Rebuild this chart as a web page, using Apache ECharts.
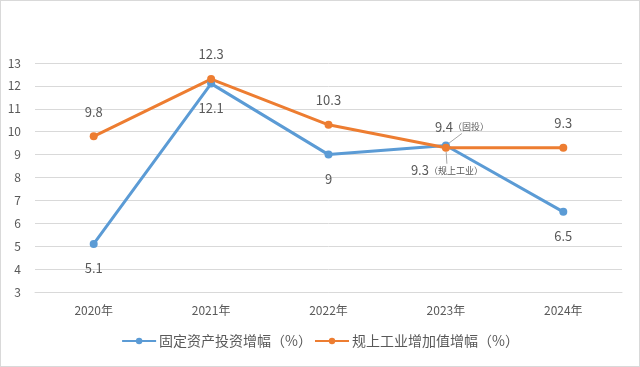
<!DOCTYPE html>
<html><head><meta charset="utf-8">
<script src="https://cdn.jsdelivr.net/npm/echarts@6/dist/echarts.min.js"></script>
<style>html,body{margin:0;padding:0;background:#fff}#c{width:640px;height:367px;box-sizing:border-box;border:1px solid #d9d9d9}</style>
</head><body><div id="c"></div>
<script>
const categories = ['2020年','2021年','2022年','2023年','2024年'];
const investName = '固定资产投资增幅（%）';
const industryName = '规上工业增加值增幅（%）';
const investValues = [5.1, 12.1, 9, 9.4, 6.5];
const industryValues = [9.8, 12.3, 10.3, 9.3, 9.3];
const investNote = '（固投）';
const industryNote = '（规上工业）';
const highlightIndex = 3;

const font = "'Noto Sans CJK SC', sans-serif";
const txt = '#595959';
const guide = { show: true, length2: 0, lineStyle: { color: '#a6a6a6', width: 1 } };

function investData() {
  return investValues.map((v, i) => i === highlightIndex ? {
    value: v,
    label: { position: 'top', formatter: '{a|{c}}{b|' + investNote + '}', rich: {a:{fontSize:13,color:txt,fontFamily:font}, b:{fontSize:9,color:txt,fontFamily:font}} },
    labelLine: guide
  } : v);
}
function industryData() {
  return industryValues.map((v, i) => i === highlightIndex ? {
    value: v,
    label: { position: 'bottom', formatter: '{a|{c}}{b|' + industryNote + '}', rich: {a:{fontSize:13,color:txt,fontFamily:font}, b:{fontSize:9,color:txt,fontFamily:font}} },
    labelLine: guide
  } : v);
}

const chart = echarts.init(document.getElementById('c'));
chart.setOption({
  animation: false,
  textStyle: { fontFamily: font },
  grid: { left: 34, right: 17, top: 62, bottom: 74 },
  legend: {
    bottom: 13, itemGap: 2, itemWidth: 34, itemHeight: 8,
    textStyle: { color: txt, fontSize: 14, fontFamily: font, padding: [0, 0, 0, -2] },
    data: [investName, industryName]
  },
  xAxis: {
    type: 'category', data: categories, boundaryGap: true,
    axisLine: { lineStyle: { color: '#d9d9d9' } },
    axisTick: { show: false },
    axisLabel: { color: txt, fontSize: 12, margin: 12 }
  },
  yAxis: {
    type: 'value', min: 3, max: 13, interval: 1,
    axisLine: { show: false }, axisTick: { show: false },
    splitLine: { lineStyle: { color: '#d9d9d9' } },
    axisLabel: { color: txt, fontSize: 12, margin: 14 }
  },
  series: [
    {
      name: investName, type: 'line', data: investData(),
      symbol: 'circle', symbolSize: 8,
      itemStyle: { color: '#5b9bd5' }, lineStyle: { width: 3, color: '#5b9bd5' },
      label: { show: true, position: 'bottom', distance: 14, color: txt, fontSize: 13 },
      labelLayout: (p) => p.dataIndex === highlightIndex ? { dx: 16, dy: 6 } : {}
    },
    {
      name: industryName, type: 'line', data: industryData(),
      symbol: 'circle', symbolSize: 8,
      itemStyle: { color: '#ed7d31' }, lineStyle: { width: 3, color: '#ed7d31' },
      label: { show: true, position: 'top', distance: 14, color: txt, fontSize: 13 },
      labelLayout: (p) => p.dataIndex === highlightIndex ? { dx: 1, dy: -2 } : {}
    }
  ]
});
</script></body></html>
